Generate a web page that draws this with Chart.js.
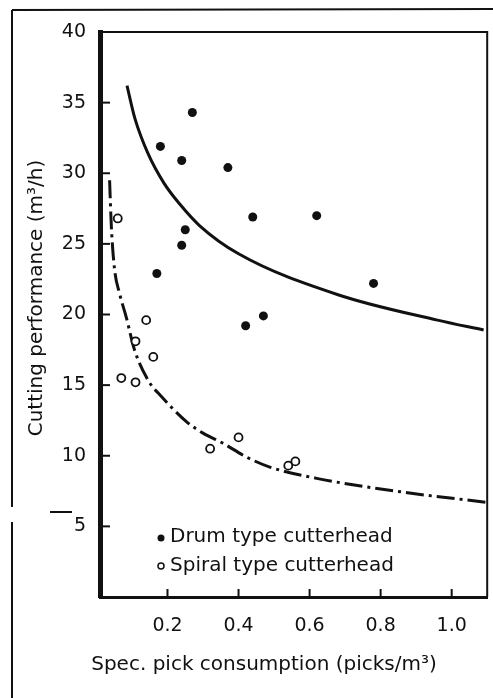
<!DOCTYPE html>
<html>
<head>
<meta charset="utf-8">
<script src="https://cdn.jsdelivr.net/npm/chart.js@4.4.1/dist/chart.umd.min.js"></script>
<style>
  html, body { margin: 0; padding: 0; background: #fff; }
  #wrap { width: 493px; height: 698px; }
</style>
</head>
<body>
<div id="wrap"><canvas id="c" width="493" height="698"></canvas></div>
<script>
// Measured points, drum type cutterhead (filled dots)
const drumX = [0.27, 0.18, 0.24, 0.37, 0.25, 0.24, 0.17, 0.42, 0.44, 0.62, 0.78, 0.47];
const drumY = [34.3, 31.9, 30.9, 30.4, 26.0, 24.9, 22.9, 19.2, 26.9, 27.0, 22.2, 19.9];

// Measured points, spiral type cutterhead (open circles)
const spiralX = [0.06, 0.14, 0.11, 0.16, 0.07, 0.11, 0.32, 0.40, 0.54, 0.56];
const spiralY = [26.8, 19.6, 18.1, 17.0, 15.5, 15.2, 10.5, 11.3, 9.3, 9.6];

// Fitted curves
const drumFitX = [0.086, 0.108, 0.145, 0.19, 0.235, 0.29, 0.40, 0.68, 0.96, 1.09];
const drumFitY = [36.2, 33.9, 31.4, 29.3, 27.8, 26.3, 24.3, 21.4, 19.6, 18.9];
const spiralFitX = [0.037, 0.042, 0.051, 0.065, 0.084, 0.107, 0.149, 0.179, 0.254, 0.30, 0.355, 0.423, 0.488, 0.62, 0.87, 1.10];
const spiralFitY = [29.5, 26.2, 23.2, 21.5, 19.8, 17.5, 15.2, 14.3, 12.4, 11.6, 10.9, 9.9, 9.2, 8.4, 7.4, 6.7];

const xTicks = [0.2, 0.4, 0.6, 0.8, 1.0];
const yTicks = [5, 10, 15, 20, 25, 30, 35, 40];

const labels = ["Drum type cutterhead", "Spiral type cutterhead"];
const xTitle = "Spec. pick consumption (picks/m³)";
const yTitle = "Cutting performance (m³/h)";

const INK = "#111";
const FONT = "'DejaVu Sans', sans-serif";

const pts = (xs, ys) => xs.map((x, i) => ({ x, y: ys[i] }));

// Inner tick marks, frame, legend, axis titles, page edge
const decor = {
  id: "decor",
  beforeDraw(chart) {
    const { ctx } = chart;
    ctx.save();
    ctx.fillStyle = "#fff";
    ctx.fillRect(0, 0, chart.width, chart.height);
    ctx.restore();
  },
  afterDraw(chart) {
    const { ctx, chartArea: a, scales } = chart;
    const sx = scales.x, sy = scales.y;
    ctx.save();
    ctx.strokeStyle = INK;
    ctx.fillStyle = INK;

    // top and right frame
    ctx.lineWidth = 2;
    ctx.beginPath();
    ctx.moveTo(a.left, a.top);
    ctx.lineTo(a.right, a.top);
    ctx.lineTo(a.right, a.bottom);
    ctx.stroke();

    // tick marks pointing into the plot
    ctx.lineWidth = 2;
    yTicks.forEach((v) => {
      if (v >= 40) return;
      const py = sy.getPixelForValue(v);
      ctx.beginPath();
      ctx.moveTo(a.left, py);
      ctx.lineTo(a.left + 10, py);
      ctx.stroke();
    });
    xTicks.forEach((v) => {
      const px = sx.getPixelForValue(v);
      ctx.beginPath();
      ctx.moveTo(px, a.bottom);
      ctx.lineTo(px, a.bottom - 8);
      ctx.stroke();
    });

    // legend inside plot
    ctx.font = "20px " + FONT;
    ctx.textBaseline = "middle";
    ctx.textAlign = "left";
    ctx.beginPath();
    ctx.arc(161, 538, 3.5, 0, Math.PI * 2);
    ctx.fill();
    ctx.fillText(labels[0], 170, 537);
    ctx.lineWidth = 1.5;
    ctx.beginPath();
    ctx.arc(161, 566, 3, 0, Math.PI * 2);
    ctx.stroke();
    ctx.fillText(labels[1], 170, 566);

    // axis titles
    ctx.textAlign = "center";
    ctx.fillText(xTitle, 264, 665);
    ctx.save();
    ctx.translate(37, 298);
    ctx.rotate(-Math.PI / 2);
    ctx.fillText(yTitle, 0, 0);
    ctx.restore();

    // scanned page edge
    ctx.lineWidth = 2;
    ctx.beginPath();
    ctx.moveTo(12, 10);
    ctx.lineTo(493, 9);
    ctx.moveTo(12, 10);
    ctx.lineTo(12, 507);
    ctx.moveTo(12, 522);
    ctx.lineTo(12, 698);
    ctx.moveTo(50, 512);
    ctx.lineTo(72, 512);
    ctx.stroke();
    ctx.restore();
  },
};

new Chart(document.getElementById("c"), {
  type: "scatter",
  data: {
    datasets: [
      {
        label: labels[0],
        data: pts(drumX, drumY),
        pointRadius: 4.5,
        pointBackgroundColor: INK,
        pointBorderColor: INK,
        pointBorderWidth: 0,
        order: 0,
      },
      {
        label: labels[1],
        data: pts(spiralX, spiralY),
        pointRadius: 4,
        pointBackgroundColor: "#fff",
        pointBorderColor: INK,
        pointBorderWidth: 1.8,
        order: 0,
      },
      {
        label: "drum fit",
        data: pts(drumFitX, drumFitY),
        showLine: true,
        pointRadius: 0,
        borderColor: INK,
        borderWidth: 3,
        cubicInterpolationMode: "monotone",
        order: 1,
      },
      {
        label: "spiral fit",
        data: pts(spiralFitX, spiralFitY),
        showLine: true,
        pointRadius: 0,
        borderColor: INK,
        borderWidth: 3,
        borderDash: [18, 5, 3, 5],
        cubicInterpolationMode: "monotone",
        order: 1,
      },
    ],
  },
  options: {
    responsive: false,
    animation: false,
    events: [],
    layout: { padding: { top: 32, right: 5, left: 0, bottom: 0 } },
    plugins: {
      legend: { display: false },
      tooltip: { enabled: false },
    },
    scales: {
      x: {
        type: "linear",
        min: 0.01,
        max: 1.1,
        afterBuildTicks: (s) => { s.ticks = xTicks.map((v) => ({ value: v })); },
        afterFit: (s) => { s.height = 101; },
        grid: { display: false },
        border: { display: true, color: INK, width: 3 },
        ticks: {
          color: INK,
          font: { family: FONT, size: 19 },
          padding: 10,
          callback: (v) => v.toFixed(1),
        },
      },
      y: {
        type: "linear",
        min: 0,
        max: 40,
        afterBuildTicks: (s) => { s.ticks = yTicks.map((v) => ({ value: v })); },
        afterFit: (s) => { s.width = 100; },
        grid: { display: false },
        border: { display: true, color: INK, width: 5 },
        ticks: {
          color: INK,
          font: { family: FONT, size: 19 },
          padding: 6,
        },
      },
    },
  },
  plugins: [decor],
});
</script>
</body>
</html>
